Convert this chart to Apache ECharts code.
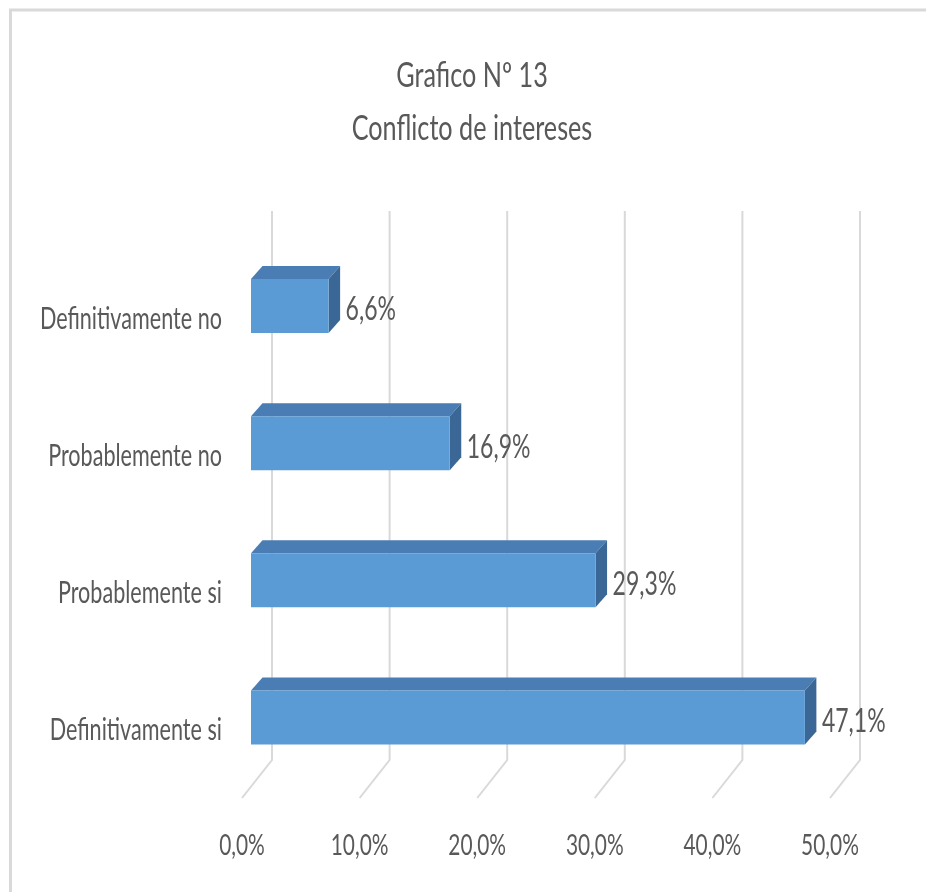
<!DOCTYPE html>
<html>
<head>
<meta charset="utf-8">
<script src="https://cdn.jsdelivr.net/npm/echarts@6/dist/echarts.min.js"></script>
<style>
html,body{margin:0;padding:0;background:#fff;}
#chart{width:926px;height:892px;}
</style>
</head>
<body>
<div id="chart"></div>
<script>
const categories = ['Definitivamente no', 'Probablemente no', 'Probablemente si', 'Definitivamente si'];
const values = [6.6, 16.9, 29.3, 47.1];
const ticks = [0, 10, 20, 30, 40, 50];
const tickLabels = ['0,0%', '10,0%', '20,0%', '30,0%', '40,0%', '50,0%'];
const titleLines = ['Grafico Nº 13', 'Conflicto de intereses'];

const FONT = 'Lato, "Open Sans", sans-serif';
const TXT = '#595959';
const SX = 0.72;

function fmt(v) { return v.toFixed(1).replace('.', ',') + '%'; }

const chart = echarts.init(document.getElementById('chart'), null, { renderer: 'canvas' });

const option = {
  backgroundColor: '#ffffff',
  animation: false,
  graphic: [
    {
      type: 'rect', z: 0, silent: true,
      shape: { x: 10.5, y: 10, width: 1000, height: 1000 },
      style: { fill: 'none', stroke: '#d9d9d9', lineWidth: 3 }
    },
    {
      type: 'text', x: 472, y: 76, scaleX: SX,
      style: { text: titleLines[0], fontFamily: FONT, fontSize: 35, fill: TXT, align: 'center', verticalAlign: 'middle' }
    },
    {
      type: 'text', x: 472, y: 129, scaleX: SX,
      style: { text: titleLines[1], fontFamily: FONT, fontSize: 35, fill: TXT, align: 'center', verticalAlign: 'middle' }
    }
  ],
  grid: { left: 251, right: 87, top: 237.5, bottom: 106, containLabel: false },
  xAxis: {
    type: 'value', min: 0, max: 50, interval: 10,
    axisLine: { show: false }, axisTick: { show: false },
    axisLabel: { show: false }, splitLine: { show: false }
  },
  yAxis: {
    type: 'category', data: categories, inverse: true,
    axisLine: { show: false }, axisTick: { show: false },
    axisLabel: { show: false }, splitLine: { show: false }
  },
  series: [
    {
      type: 'custom', name: 'grid3d', z: 1, silent: true,
      data: ticks.map((t, i) => [t, categories[0], i]),
      renderItem: function (params, api) {
        const x = api.coord([api.value(0), 0])[0];
        const cs = params.coordSys;
        const top = cs.y, bottom = cs.y + cs.height;
        const idx = api.value(2);
        return {
          type: 'group',
          children: [
            {
              type: 'polyline',
              shape: { points: [[x + 21, top - 26.5], [x + 21, bottom - 26], [x - 9, bottom + 12]] },
              style: { stroke: '#d9d9d9', lineWidth: 2, fill: null }
            },
            {
              type: 'text', x: x - 9, y: bottom + 60, scaleX: SX,
              style: { text: tickLabels[idx], fontFamily: FONT, fontSize: 29, fill: TXT, align: 'center', verticalAlign: 'middle' }
            }
          ]
        };
      }
    },
    {
      type: 'custom', name: 'bars3d', z: 2, silent: true,
      data: values.map((v, i) => [v, categories[i]]),
      renderItem: function (params, api) {
        const c = api.value(1);
        const start = api.coord([0, c]);
        const end = api.coord([api.value(0), c]);
        const h = api.size([0, 1])[1] * 0.394;
        const x0 = start[0], x1 = end[0];
        const y0 = end[1] - h / 2, y1 = end[1] + h / 2;
        const dx = 11.5, dy = -13;
        return {
          type: 'group',
          children: [
            {
              type: 'polygon',
              shape: { points: [[x0, y0], [x1, y0], [x1 + dx, y0 + dy], [x0 + dx, y0 + dy]] },
              style: { fill: '#4a7db3' }
            },
            {
              type: 'polygon',
              shape: { points: [[x1, y0], [x1 + dx, y0 + dy], [x1 + dx, y1 + dy], [x1, y1]] },
              style: { fill: '#3b6796' }
            },
            {
              type: 'rect',
              shape: { x: x0, y: y0, width: x1 - x0, height: y1 - y0 },
              style: { fill: '#5b9bd5' }
            },
            {
              type: 'text', x: x1 + 17, y: end[1] + 4, scaleX: SX,
              style: { text: fmt(api.value(0)), fontFamily: FONT, fontSize: 32, fill: TXT, align: 'left', verticalAlign: 'middle' }
            },
            {
              type: 'text', x: x0 - 29, y: end[1] + 13, scaleX: SX,
              style: { text: categories[params.dataIndex], fontFamily: FONT, fontSize: 30, fill: TXT, align: 'right', verticalAlign: 'middle' }
            }
          ]
        };
      }
    }
  ]
};

chart.setOption(option);
</script>
</body>
</html>
